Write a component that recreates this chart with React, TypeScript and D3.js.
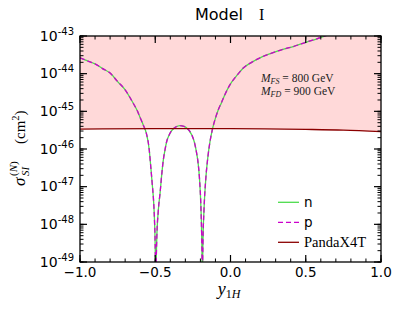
import * as d3 from 'd3';

// y_1H grid, with log10(sigma) of the n and p curves
const yGrid = [
  -1.0, -0.95, -0.9, -0.85, -0.8, -0.75, -0.7, -0.65, -0.62, -0.6, -0.58, -0.56, -0.54, -0.53, -0.52, -0.51,
  -0.505, -0.5, -0.498, -0.497, -0.495, -0.49, -0.48, -0.468, -0.455, -0.446, -0.435, -0.424, -0.41, -0.391,
  -0.365, -0.336, -0.31, -0.291, -0.258, -0.24, -0.225, -0.215, -0.207, -0.196, -0.192, -0.189, -0.187, -0.185,
  -0.183, -0.176, -0.163, -0.15, -0.136, -0.118, -0.1, -0.081, -0.06, -0.04, -0.003, 0.04, 0.085, 0.14, 0.196,
  0.25, 0.307, 0.36, 0.417, 0.506, 0.57, 0.628, 0.7, 0.8,
];
const nLogSigma = [
  -43.58, -43.66, -43.74, -43.865, -43.985, -44.21, -44.43, -44.76, -44.98, -45.17, -45.36, -45.57, -46.02, -46.46,
  -46.93, -47.45, -47.9, -48.7, -49.5, -51, -49.6, -48.4, -47.65, -47.17, -46.6, -46.28, -46.02, -45.8, -45.65,
  -45.51, -45.42, -45.38, -45.4, -45.44, -45.62, -45.82, -46.11, -46.38, -46.73, -47.61, -48.2, -49.0, -51, -49.1,
  -48.5, -47.61, -46.73, -46.2, -45.8, -45.44, -45.18, -44.96, -44.77, -44.58, -44.29, -44.06, -43.85, -43.7,
  -43.58, -43.49, -43.41, -43.34, -43.28, -43.16, -43.08, -43.0, -42.9, -42.78,
];
// p lies on top of n everywhere at this resolution
const pLogSigma = nLogSigma.slice();

const pandaGrid = [-1, -0.5, 0, 0.5, 0.75, 1];
const pandaLogSigma = [-45.47, -45.46, -45.46, -45.48, -45.5, -45.54];

const xMajorTicks = [-1, -0.5, 0, 0.5, 1];
const yDecades = [-49, -48, -47, -46, -45, -44, -43];
const legendLabels = ['n', 'p', 'PandaX4T'];
const massLines = [
  { sub: 'FS', value: '800' },
  { sub: 'FD', value: '900' },
];

const width = 399;
const height = 309;
const margin = { top: 36, right: 18, bottom: 47, left: 80 };

const serif = '"Liberation Serif", "DejaVu Serif", serif';
const sans = '"DejaVu Sans", sans-serif';

export default function App() {
  const x = d3.scaleLinear().domain([-1, 1]).range([margin.left, width - margin.right]);
  const y = d3.scaleLog().domain([1e-49, 1e-43]).range([height - margin.bottom, margin.top]);
  const L = margin.left;
  const R = width - margin.right;
  const T = margin.top;
  const B = height - margin.bottom;

  const curve = (xs: number[], ls: number[]) =>
    d3
      .line<number>()
      .x((_, i) => x(xs[i]))
      .y((v) => y(Math.pow(10, v)))
      .curve(d3.curveMonotoneX)(ls) || '';

  const fill =
    d3
      .area<number>()
      .x((_, i) => x(pandaGrid[i]))
      .y0(T)
      .y1((v) => y(Math.pow(10, v)))
      .curve(d3.curveMonotoneX)(pandaLogSigma) || '';

  const xMinor = x.ticks(20);
  const yMinor = y.ticks().filter((t) => t >= 1e-49 && t <= 1e-43);
  const fmt = d3.format('.1f');

  const colors = { n: '#4cdc4c', p: '#cc00cc', PandaX4T: '#8b0000' } as Record<string, string>;

  return (
    <svg width={width} height={height} style={{ position: 'absolute', left: 0, top: 0, background: '#fff' }}>
      <defs>
        <clipPath id="plot">
          <rect x={L} y={T} width={R - L} height={B - T} />
        </clipPath>
      </defs>

      <g clipPath="url(#plot)">
        <path d={fill} fill="#ffd9d9" />
        <path d={curve(yGrid, nLogSigma)} fill="none" stroke={colors.n} strokeWidth={1.3} />
        <path d={curve(yGrid, pLogSigma)} fill="none" stroke={colors.p} strokeWidth={1.3} strokeDasharray="5,3" />
        <path d={curve(pandaGrid, pandaLogSigma)} fill="none" stroke={colors.PandaX4T} strokeWidth={1.3} />
      </g>

      {/* minor ticks */}
      {xMinor.map((t) => (
        <g key={'xm' + t} stroke="#000" strokeWidth={1}>
          <line x1={x(t)} x2={x(t)} y1={B} y2={B - 3.5} />
          <line x1={x(t)} x2={x(t)} y1={T} y2={T + 3.5} />
        </g>
      ))}
      {xMajorTicks.map((t) => (
        <g key={'xM' + t}>
          <line x1={x(t)} x2={x(t)} y1={B} y2={B - 7} stroke="#000" strokeWidth={1.2} />
          <line x1={x(t)} x2={x(t)} y1={T} y2={T + 7} stroke="#000" strokeWidth={1.2} />
          <text x={x(t)} y={B + 15} textAnchor="middle" fontFamily={sans} fontSize={13.5}>
            {fmt(t)}
          </text>
        </g>
      ))}
      {yMinor.map((t, i) => (
        <g key={'ym' + i} stroke="#000" strokeWidth={1}>
          <line x1={L} x2={L + 3.5} y1={y(t)} y2={y(t)} />
          <line x1={R} x2={R - 3.5} y1={y(t)} y2={y(t)} />
        </g>
      ))}
      {yDecades.map((e) => (
        <g key={'yM' + e}>
          <line x1={L} x2={L + 7} y1={y(Math.pow(10, e))} y2={y(Math.pow(10, e))} stroke="#000" strokeWidth={1.2} />
          <line x1={R} x2={R - 7} y1={y(Math.pow(10, e))} y2={y(Math.pow(10, e))} stroke="#000" strokeWidth={1.2} />
          <text x={L - 6} y={y(Math.pow(10, e)) + 4.5} textAnchor="end" fontFamily={sans} fontSize={14}>
            10
            <tspan fontSize={10} dy={-5.7}>
              {'-' + Math.abs(e)}
            </tspan>
          </text>
        </g>
      ))}

      <rect x={L} y={T} width={R - L} height={B - T} fill="none" stroke="#000" strokeWidth={1.3} />

      {/* annotation */}
      {massLines.map((m, i) => (
        <text key={m.sub} x={261} y={82 + i * 13} fontFamily={serif} fontSize={11.5} fill="#222">
          <tspan fontStyle="italic">M</tspan>
          <tspan fontStyle="italic" fontSize={8} dy={2}>
            {m.sub}
          </tspan>
          <tspan dy={-2}>{` = ${m.value} GeV`}</tspan>
        </text>
      ))}

      {/* legend */}
      {legendLabels.map((lab, i) => {
        const ly = 202.3 + i * 20;
        return (
          <g key={lab}>
            <line
              x1={278}
              x2={299}
              y1={ly}
              y2={ly}
              stroke={colors[lab]}
              strokeWidth={1.3}
              strokeDasharray={lab === 'p' ? '5,3' : undefined}
            />
            <text
              x={304}
              y={ly + 4.7}
              fontFamily={lab === 'PandaX4T' ? serif : sans}
              fontSize={lab === 'PandaX4T' ? 14.5 : 13.5}
            >
              {lab}
            </text>
          </g>
        );
      })}

      {/* title */}
      <text x={195} y={20} fontFamily={sans} fontSize={16}>
        Model
      </text>
      <text x={259} y={20} fontFamily={serif} fontSize={16}>
        I
      </text>

      {/* axis labels */}
      <text x={229} y={295} textAnchor="middle" fontFamily={serif}>
        <tspan fontStyle="italic" fontSize={18}>
          y
        </tspan>
        <tspan fontSize={12} dy={3}>
          1
        </tspan>
        <tspan fontSize={12} fontStyle="italic">
          H
        </tspan>
      </text>
      <g transform="translate(25,148) rotate(-90)" fontFamily={serif}>
        <text x={-38} y={0} fontSize={17} fontStyle="italic">
          σ
        </text>
        <text x={-28} y={4} fontSize={11} fontStyle="italic">
          SI
        </text>
        <text x={-28} y={-8} fontSize={11}>
          (<tspan fontStyle="italic">N</tspan>)
        </text>
        <text x={4} y={0} fontSize={15}>
          (cm
          <tspan fontSize={10.5} dy={-6.5}>
            2
          </tspan>
          <tspan dy={6.5}>)</tspan>
        </text>
      </g>
    </svg>
  );
}
